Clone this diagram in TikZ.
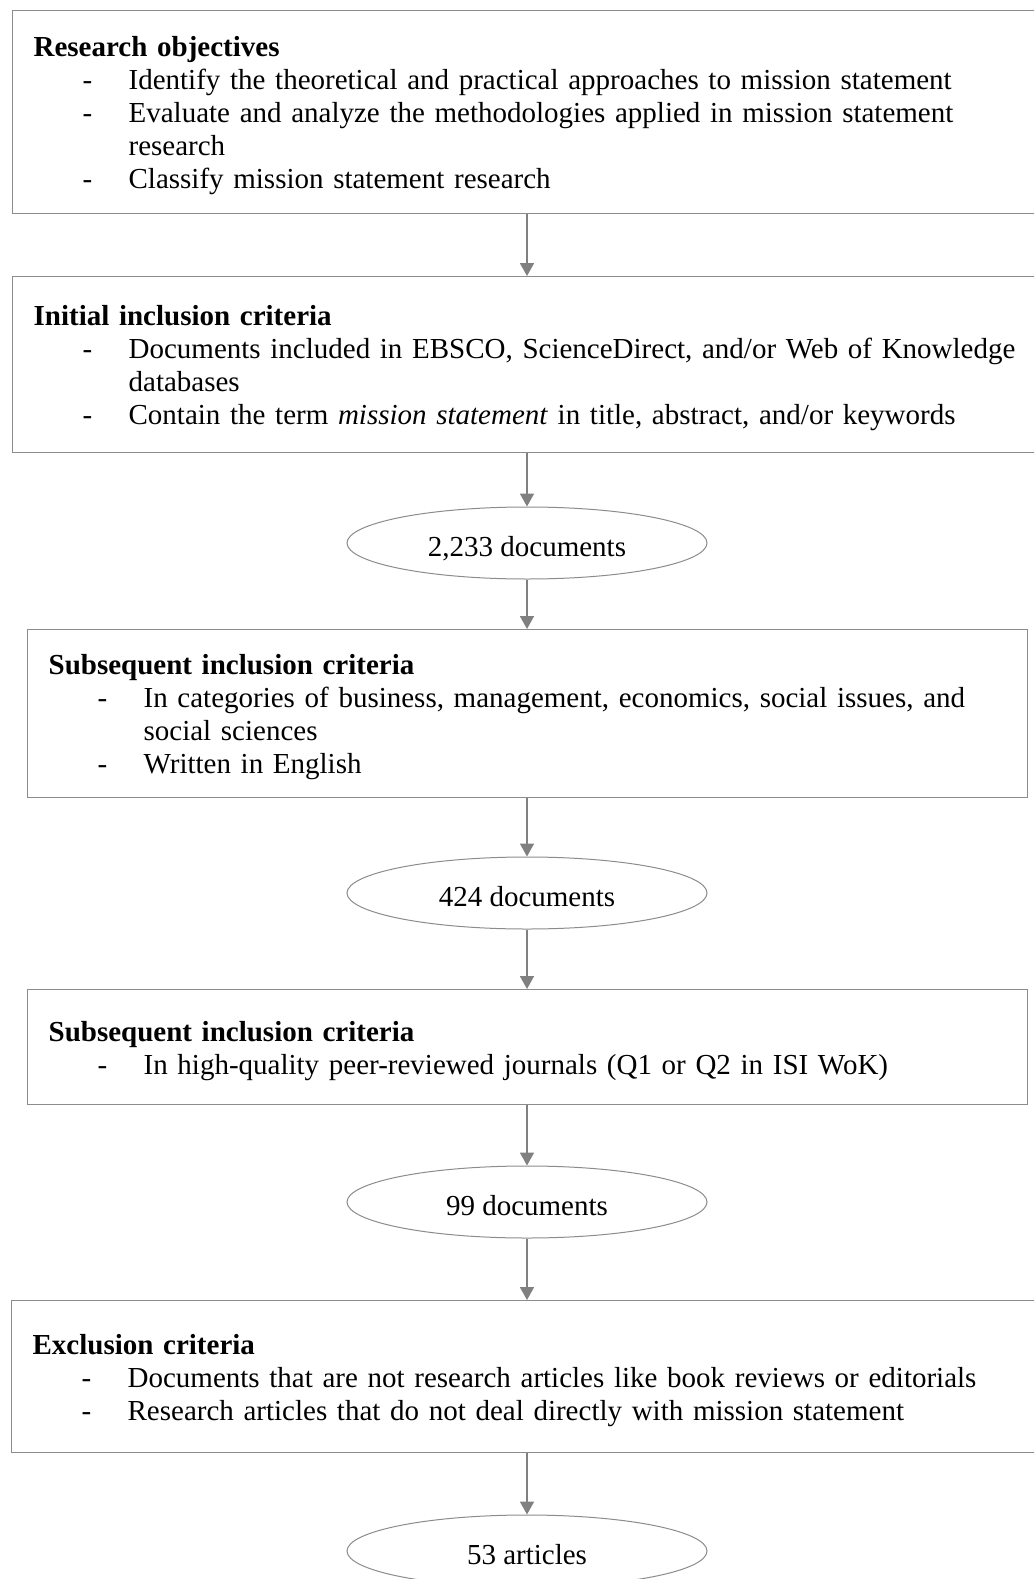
\documentclass[tikz,border=0pt]{standalone}
\usepackage{fontspec}
\setmainfont{Liberation Serif}
\usetikzlibrary{arrows.meta,shapes.geometric}
\definecolor{boxgray}{RGB}{140,140,140}
\definecolor{arrgray}{RGB}{128,128,128}
\newcommand\critem[1]{\hspace*{49pt}\makebox[46pt][l]{-}#1}
\newcommand\critcont[1]{\hspace*{95pt}#1}
\newcommand\crittitle[1]{\rule{0pt}{27pt}\textbf{#1}}
\begin{document}
\begin{tikzpicture}[x=1pt,y=-1pt,
  txt/.style={font=\fontsize{29}{33}\selectfont},
  critbox/.style={draw=boxgray,line width=1.3pt,rectangle,anchor=north west,
    inner xsep=21pt,inner ysep=0pt,align=left,txt},
  countell/.style={draw=boxgray,line width=1pt,ellipse,minimum width=360pt,
    minimum height=72pt,inner sep=0pt,text height=27pt,text depth=0pt,txt},
  flow/.style={draw=arrgray,line width=1.8pt,-{Triangle[length=13pt,width=14pt]}}
]
\useasboundingbox (0,0) rectangle (1034,1579);
\clip (0,0) rectangle (1034,1579);
\fill[white] (0,0) rectangle (1034,1579);

\node[critbox,text width=991pt,minimum height=203pt] (obj) at (12,10) {%
\crittitle{Research objectives}\\
\critem{Identify the theoretical and practical approaches to mission statement}\\
\critem{Evaluate and analyze the methodologies applied in mission statement}\\
\critcont{research}\\
\critem{Classify mission statement research}};

\node[critbox,text width=991pt,minimum height=176pt] (init) at (12,276) {%
\crittitle{Initial inclusion criteria}\\
\critem{Documents included in EBSCO, ScienceDirect, and/or Web of Knowledge}\\
\critcont{databases}\\
\critem{Contain the term \textit{mission statement} in title, abstract, and/or keywords}};

\node[countell] (e1) at (527,543) {2,233 documents};

\node[critbox,text width=958pt,minimum height=168pt] (sub1) at (27,629) {%
\crittitle{Subsequent inclusion criteria}\\
\critem{In categories of business, management, economics, social issues, and}\\
\critcont{social sciences}\\
\critem{Written in English}};

\node[countell] (e2) at (527,893) {424 documents};

\node[critbox,text width=958pt,minimum height=115pt] (sub2) at (27,989) {%
\crittitle{Subsequent inclusion criteria}\\
\critem{In high-quality peer-reviewed journals (Q1 or Q2 in ISI WoK)}};

\node[countell] (e3) at (527,1202) {99 documents};

\node[critbox,text width=992pt,minimum height=152pt] (excl) at (11,1300) {%
\crittitle{Exclusion criteria}\\
\critem{Documents that are not research articles like book reviews or editorials}\\
\critem{Research articles that do not deal directly with mission statement}};

\node[countell] (e4) at (527,1551) {53 articles};

\draw[flow] (obj.south -| e1.center) -- (init.north -| e1.center);
\draw[flow] (init.south -| e1.center) -- (e1.north);
\draw[flow] (e1.south) -- (sub1.north -| e1.center);
\draw[flow] (sub1.south -| e2.center) -- (e2.north);
\draw[flow] (e2.south) -- (sub2.north -| e2.center);
\draw[flow] (sub2.south -| e3.center) -- (e3.north);
\draw[flow] (e3.south) -- (excl.north -| e3.center);
\draw[flow] (excl.south -| e4.center) -- (e4.north);
\end{tikzpicture}
\end{document}
